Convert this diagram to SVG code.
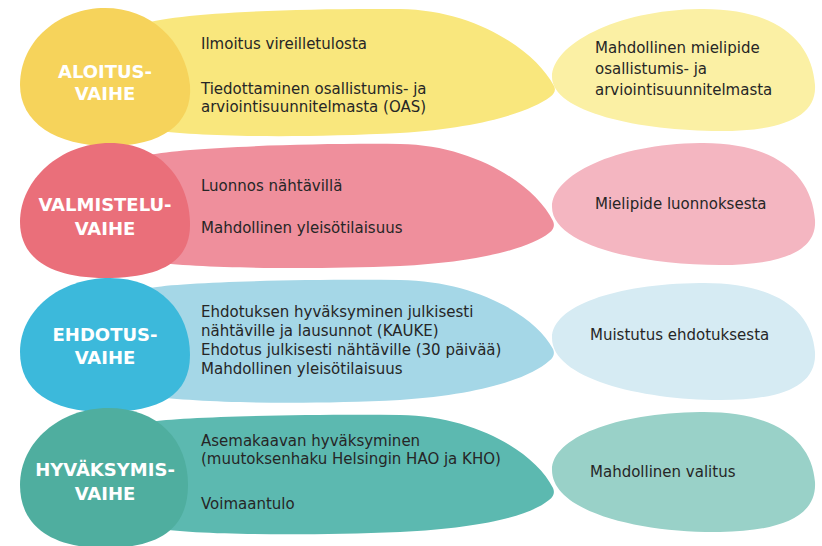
<svg xmlns="http://www.w3.org/2000/svg" width="822" height="546" viewBox="0 0 822 546">
<style>
.lbl{font-family:"DejaVu Sans",Verdana,sans-serif;font-weight:bold;font-size:18px;fill:#fff;text-anchor:middle}
.txt{font-family:"DejaVu Sans",Verdana,sans-serif;font-size:15px;fill:#262626}
.y1{fill:#F6D35B}.y2{fill:#F9E77D}.y3{fill:#FBF0A4}
.p1{fill:#EA6F7A}.p2{fill:#EF8F9C}.p3{fill:#F4B6C1}
.b1{fill:#3CB9DB}.b2{fill:#A5D7E7}.b3{fill:#D6EBF3}
.g1{fill:#4FAE9F}.g2{fill:#5CB9B0}.g3{fill:#99D1C8}
</style>
<rect width="822" height="546" fill="#fff"/>

<!-- Row 1 -->
<g id="aloitus-leaf">
<path class="y2" d="M140 25 C165 14 280 8 400 9 C475 10 535 50 554 86 Q557 92 550 97 C530 112 480 128 400 133 C300 138 200 137 150 130 Z"/>
<text class="txt" x="201" y="49">Ilmoitus vireilletulosta</text>
<text class="txt" x="201" y="94">Tiedottaminen osallistumis- ja</text>
<text class="txt" x="201" y="112">arviointisuunnitelmasta (OAS)</text>
</g>
<g id="aloitus-vaihe">
<path class="y1" d="M105 8 C150 8 185 40 190 85 C193 125 160 146 110 146 C55 146 20 122 20 85 C20 40 60 8 105 8 Z"/>
<text class="lbl" x="105" y="78">ALOITUS-</text>
<text class="lbl" x="105" y="100">VAIHE</text>
</g>
<g id="aloitus-osallinen">
<path class="y3" d="M552 77 C552 45 615 10 700 9 C775 8 812 40 815 85 C817 118 780 131 720 131 C640 131 552 112 552 77 Z"/>
<text class="txt" x="595" y="53">Mahdollinen mielipide</text>
<text class="txt" x="595" y="74">osallistumis- ja</text>
<text class="txt" x="595" y="95">arviointisuunnitelmasta</text>
</g>

<!-- Row 2 -->
<g id="valmistelu-leaf">
<path class="p2" d="M150 155 C180 148 300 143 400 144 C475 145 535 185 553 221 Q556 228 549 233 C530 248 480 262 400 266 C300 270 200 268 150 262 Z"/>
<text class="txt" x="201" y="191">Luonnos nähtävillä</text>
<text class="txt" x="201" y="233">Mahdollinen yleisötilaisuus</text>
</g>
<g id="valmistelu-vaihe">
<path class="p1" d="M110 143 C160 143 190 180 190 225 C190 262 160 278 105 278 C50 278 20 258 20 222 C20 180 60 143 110 143 Z"/>
<text class="lbl" x="105" y="211">VALMISTELU-</text>
<text class="lbl" x="105" y="235">VAIHE</text>
</g>
<g id="valmistelu-osallinen">
<path class="p3" d="M552 207 C552 175 615 144 700 143 C775 142 812 175 815 220 C817 252 780 265 720 265 C640 265 552 245 552 207 Z"/>
<text class="txt" x="595" y="209">Mielipide luonnoksesta</text>
</g>

<!-- Row 3 -->
<g id="ehdotus-leaf">
<path class="b2" d="M150 288 C180 282 300 279 400 280 C475 281 535 315 553 349 Q556 356 549 361 C530 378 480 395 400 400 C300 405 200 403 150 396 Z"/>
<text class="txt" x="201" y="317">Ehdotuksen hyväksyminen julkisesti</text>
<text class="txt" x="201" y="336">nähtäville ja lausunnot (KAUKE)</text>
<text class="txt" x="201" y="355">Ehdotus julkisesti nähtäville (30 päivää)</text>
<text class="txt" x="201" y="374">Mahdollinen yleisötilaisuus</text>
</g>
<g id="ehdotus-vaihe">
<path class="b1" d="M110 278 C160 278 190 312 190 355 C190 395 160 412 105 412 C50 412 20 390 20 352 C20 310 60 278 110 278 Z"/>
<text class="lbl" x="105" y="341">EHDOTUS-</text>
<text class="lbl" x="105" y="364">VAIHE</text>
</g>
<g id="ehdotus-osallinen">
<path class="b3" d="M552 338 C552 306 615 284 700 283 C775 282 812 310 815 352 C817 387 780 400 720 400 C640 400 552 378 552 338 Z"/>
<text class="txt" x="590" y="340">Muistutus ehdotuksesta</text>
</g>

<!-- Row 4 -->
<g id="hyvaksymis-leaf">
<path class="g2" d="M150 422 C180 417 300 414 400 415 C475 416 535 452 553 488 Q556 495 549 500 C530 516 480 528 400 532 C300 536 200 535 150 528 Z"/>
<text class="txt" x="201" y="446">Asemakaavan hyväksyminen</text>
<text class="txt" x="201" y="464">(muutoksenhaku Helsingin HAO ja KHO)</text>
<text class="txt" x="201" y="509">Voimaantulo</text>
</g>
<g id="hyvaksymis-vaihe">
<path class="g1" d="M108 408 C158 408 188 440 188 485 C188 528 160 548 105 548 C50 548 20 525 20 485 C20 442 60 408 108 408 Z"/>
<text class="lbl" x="105" y="476">HYVÄKSYMIS-</text>
<text class="lbl" x="105" y="500">VAIHE</text>
</g>
<g id="hyvaksymis-osallinen">
<path class="g3" d="M552 470 C552 438 615 413 700 412 C775 411 812 440 815 482 C817 517 780 531 720 532 C640 533 552 512 552 470 Z"/>
<text class="txt" x="590" y="477">Mahdollinen valitus</text>
</g>
</svg>
